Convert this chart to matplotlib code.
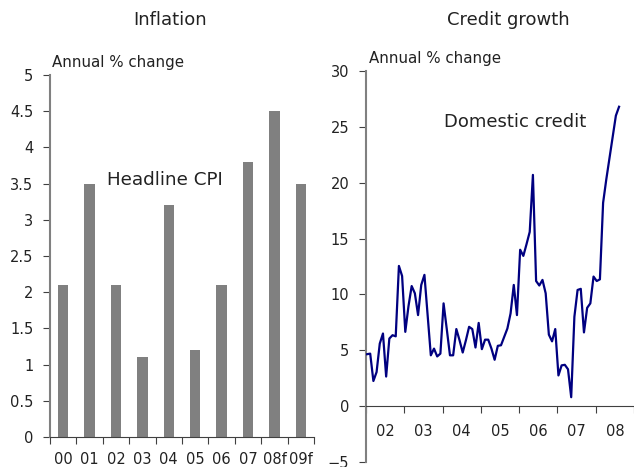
import numpy as np
import matplotlib
matplotlib.use("Agg")
import matplotlib.pyplot as plt

# Headline CPI, annual % change
years = ["00", "01", "02", "03", "04", "05", "06", "07", "08f", "09f"]
cpi = [2.1, 3.5, 2.1, 1.1, 3.2, 1.2, 2.1, 3.8, 4.5, 3.5]

# Domestic credit growth, monthly, Jan 2002 - Aug 2008
credit = [4.65, 4.7, 2.25, 3.05, 5.6, 6.5, 2.65, 6.05, 6.35, 6.25,
          12.55, 11.65, 6.65, 8.95, 10.75, 10.1, 8.15, 10.85, 11.75, 8.15,
          4.55, 5.15, 4.45, 4.7, 9.2, 6.9, 4.55, 4.55, 6.9, 5.9,
          4.8, 5.9, 7.1, 6.9, 5.25, 7.45, 5.1, 5.95, 5.95, 5.15,
          4.15, 5.4, 5.45, 6.2, 6.95, 8.3, 10.85, 8.15, 14.0, 13.45,
          14.5, 15.6, 20.7, 11.2, 10.8, 11.3, 10.1, 6.4, 5.8, 6.9,
          2.75, 3.65, 3.7, 3.3, 0.8, 8.0, 10.4, 10.5, 6.6, 8.8,
          9.2, 11.6, 11.2, 11.35, 18.2, 20.3, 22.2, 24.1, 26.0, 26.8]
credit_start_year = 2002
credit_year_labels = ["02", "03", "04", "05", "06", "07", "08"]

plt.rcParams["font.family"] = ["DejaVu Sans"]

W, H = 634, 467
fig = plt.figure(figsize=(W / 100, H / 100), dpi=100)

spine_grey = "#808080"
text_col = "#222222"
tick_fs = 10.5

# ---------- Inflation (bars) ----------
ax1 = fig.add_axes([50 / W, (H - 437) / H, 264 / W, (437 - 75) / H])
x = np.arange(len(years))
ax1.bar(x, cpi, width=0.4, color="#808080", zorder=2)
ax1.set_xlim(-0.5, len(years) - 0.5)
ax1.set_ylim(0, 5)
ax1.set_yticks(np.arange(0, 5.01, 0.5))
ax1.set_yticklabels([f"{v:g}" for v in np.arange(0, 5.01, 0.5)])
ax1.set_xticks(np.arange(-0.5, len(years), 1.0))
ax1.set_xticklabels([])
ax1.set_xticks(x, minor=True)
ax1.set_xticklabels(years, minor=True)
ax1.tick_params(axis="x", which="major", direction="out", length=5,
                color="#404040")
ax1.tick_params(axis="x", which="minor", length=0, pad=11,
                labelsize=tick_fs, labelcolor=text_col)
ax1.tick_params(axis="y", direction="out", length=5, pad=7,
                labelsize=tick_fs, labelcolor=text_col, color="#404040")
for s in ["top", "right"]:
    ax1.spines[s].set_visible(False)
ax1.spines["left"].set_color(spine_grey)
ax1.spines["left"].set_linewidth(1.5)
ax1.spines["bottom"].set_color("#404040")
ax1.text(165, H - 180, "Headline CPI", transform=None, fontsize=13.2,
         ha="center", va="center", color=text_col)

fig.text(170 / W, 1 - 20 / H, "Inflation", ha="center", va="center",
         fontsize=13, color=text_col)
fig.text(52 / W, 1 - 62 / H, "Annual % change", ha="left", va="center",
         fontsize=10.8, color=text_col)

# ---------- Credit growth (line) ----------
ax2 = fig.add_axes([366 / W, (H - 462) / H, (W - 366) / W, (462 - 71) / H])
t = credit_start_year + 1 / 38 + np.arange(len(credit)) / 12
ax2.plot(t, credit, color="#000080", linewidth=1.6, zorder=3)
ax2.set_xlim(2002, 2002 + (W - 366) / 38.83)
ax2.set_ylim(-5, 30)
ax2.set_yticks(np.arange(-5, 31, 5))
ax2.set_xticks(np.arange(2002, 2010))
ax2.set_xticklabels([])
ax2.set_xticks(np.arange(2002.5, 2009, 1.0), minor=True)
ax2.set_xticklabels(credit_year_labels, minor=True)
ax2.spines["bottom"].set_position(("data", 0))
ax2.tick_params(axis="x", which="major", direction="out", length=5,
                color="#404040")
ax2.tick_params(axis="x", which="minor", length=0, pad=13,
                labelsize=tick_fs, labelcolor=text_col)
ax2.tick_params(axis="y", direction="out", length=5, pad=7,
                labelsize=tick_fs, labelcolor=text_col, color="#404040")
for s in ["top", "right"]:
    ax2.spines[s].set_visible(False)
ax2.spines["left"].set_color(spine_grey)
ax2.spines["left"].set_linewidth(1.5)
ax2.spines["bottom"].set_color("#404040")
ax2.text(515, H - 122, "Domestic credit", transform=None, fontsize=13,
         ha="center", va="center", color=text_col)

fig.text(508 / W, 1 - 20 / H, "Credit growth", ha="center", va="center",
         fontsize=13, color=text_col)
fig.text(369 / W, 1 - 58 / H, "Annual % change", ha="left", va="center",
         fontsize=10.8, color=text_col)

fig.savefig("out.png", dpi=100, facecolor="white")
